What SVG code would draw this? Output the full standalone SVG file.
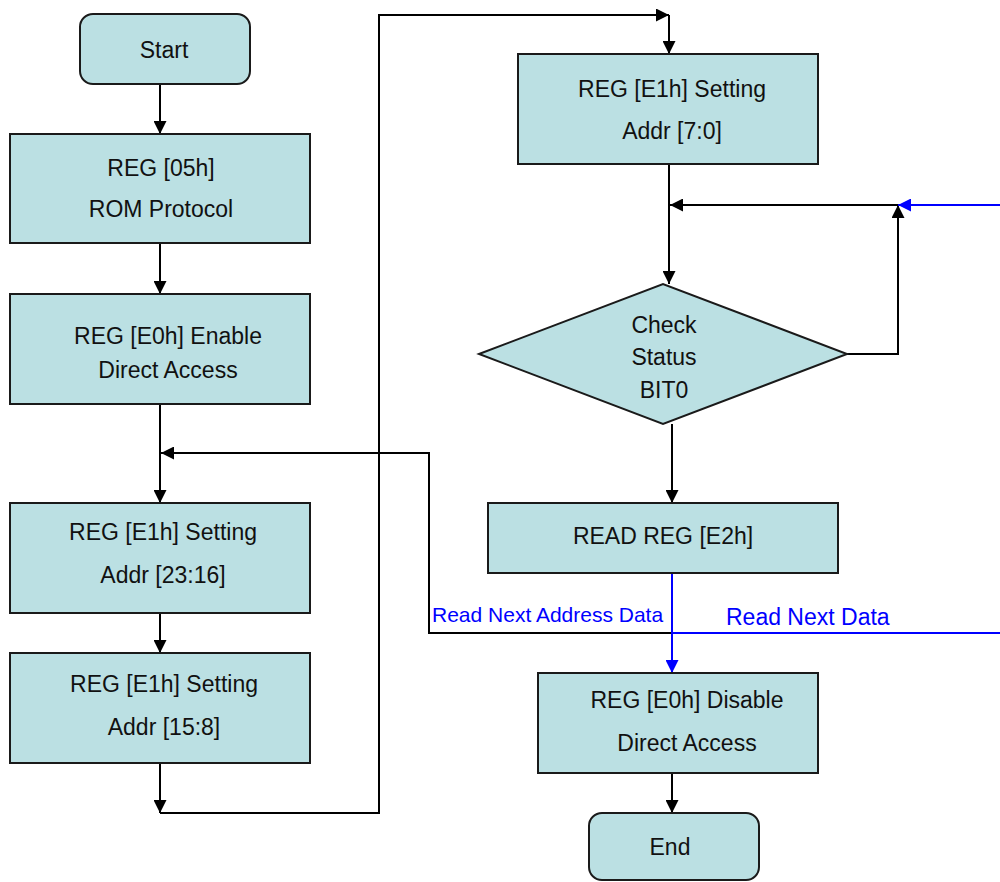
<svg xmlns="http://www.w3.org/2000/svg" width="1000" height="882" viewBox="0 0 1000 882">
<style>
.box{fill:#BBE0E3;stroke:#1a1a1a;stroke-width:2}
.t{font-family:"Liberation Sans",Arial,sans-serif;font-size:23px;fill:#111;text-anchor:middle}
.bt{font-family:"Liberation Sans",Arial,sans-serif;fill:#0000ff}
.c{fill:none;stroke:#000;stroke-width:2}
.cb{fill:none;stroke:#0000ff;stroke-width:2}
</style>
<defs>
<marker id="ah" markerUnits="userSpaceOnUse" markerWidth="13" markerHeight="13" refX="13" refY="6.5" orient="auto">
<path d="M0,0 L13,6.5 L0,13 z" fill="#000"/>
</marker>
<marker id="ahb" markerUnits="userSpaceOnUse" markerWidth="13" markerHeight="13" refX="13" refY="6.5" orient="auto">
<path d="M0,0 L13,6.5 L0,13 z" fill="#0000ff"/>
</marker>
</defs>
<rect width="1000" height="882" fill="#fff"/>
<g id="connectors">
<path class="c" d="M160,84 V134" marker-end="url(#ah)"/>
<path class="c" d="M160,243 V294" marker-end="url(#ah)"/>
<path class="c" d="M160,404 V503" marker-end="url(#ah)"/>
<path class="c" d="M672,633 H429 V453 H161" marker-end="url(#ah)"/>
<path class="c" d="M160,613 V653" marker-end="url(#ah)"/>
<path class="c" d="M160,763 V813" marker-end="url(#ah)"/>
<path class="c" d="M160,813 H379 V15 H669" marker-end="url(#ah)"/>
<path class="c" d="M669,15 V54" marker-end="url(#ah)"/>
<path class="c" d="M669,164 V284" marker-end="url(#ah)"/>
<path class="c" d="M847,354 H898 V205" marker-end="url(#ah)"/>
<path class="c" d="M898,205 H670" marker-end="url(#ah)"/>
<path class="cb" d="M1000,205 H898" marker-end="url(#ahb)"/>
<path class="c" d="M672,424 V503" marker-end="url(#ah)"/>
<path class="cb" d="M672,573 V673" marker-end="url(#ahb)"/>
<path class="cb" d="M672,633 H1000"/>
<path class="c" d="M672,773 V813" marker-end="url(#ah)"/>
<text class="bt" x="432" y="622" font-size="21">Read Next Address Data</text>
<text class="bt" x="726" y="625" font-size="23">Read Next Data</text>
</g>
<g id="start">
<rect class="box" x="80" y="14" width="170" height="70" rx="13"/>
<text class="t" x="164" y="58">Start</text>
</g>
<g id="reg05">
<rect class="box" x="10" y="134" width="300" height="109"/>
<text class="t" x="161" y="176">REG [05h]</text>
<text class="t" x="161" y="217">ROM Protocol</text>
</g>
<g id="regE0enable">
<rect class="box" x="10" y="294" width="300" height="110"/>
<text class="t" x="168" y="344">REG [E0h] Enable</text>
<text class="t" x="168" y="378">Direct Access</text>
</g>
<g id="regE1_23">
<rect class="box" x="10" y="503" width="300" height="110"/>
<text class="t" x="163" y="540">REG [E1h] Setting</text>
<text class="t" x="163" y="583">Addr [23:16]</text>
</g>
<g id="regE1_15">
<rect class="box" x="10" y="653" width="300" height="110"/>
<text class="t" x="164" y="692">REG [E1h] Setting</text>
<text class="t" x="164" y="735">Addr [15:8]</text>
</g>
<g id="regE1_7">
<rect class="box" x="518" y="54" width="300" height="110"/>
<text class="t" x="672" y="97">REG [E1h] Setting</text>
<text class="t" x="672" y="139">Addr [7:0]</text>
</g>
<g id="check">
<polygon class="box" points="479,354 663,284 847,354 663,424"/>
<text class="t" x="664" y="333">Check</text>
<text class="t" x="664" y="365">Status</text>
<text class="t" x="664" y="398">BIT0</text>
</g>
<g id="readE2">
<rect class="box" x="488" y="503" width="350" height="70"/>
<text class="t" x="663" y="544">READ REG [E2h]</text>
</g>
<g id="regE0disable">
<rect class="box" x="538" y="673" width="280" height="100"/>
<text class="t" x="687" y="708">REG [E0h] Disable</text>
<text class="t" x="687" y="751">Direct Access</text>
</g>
<g id="end">
<rect class="box" x="589" y="813" width="170" height="67" rx="13"/>
<text class="t" x="670" y="855">End</text>
</g>
</svg>
